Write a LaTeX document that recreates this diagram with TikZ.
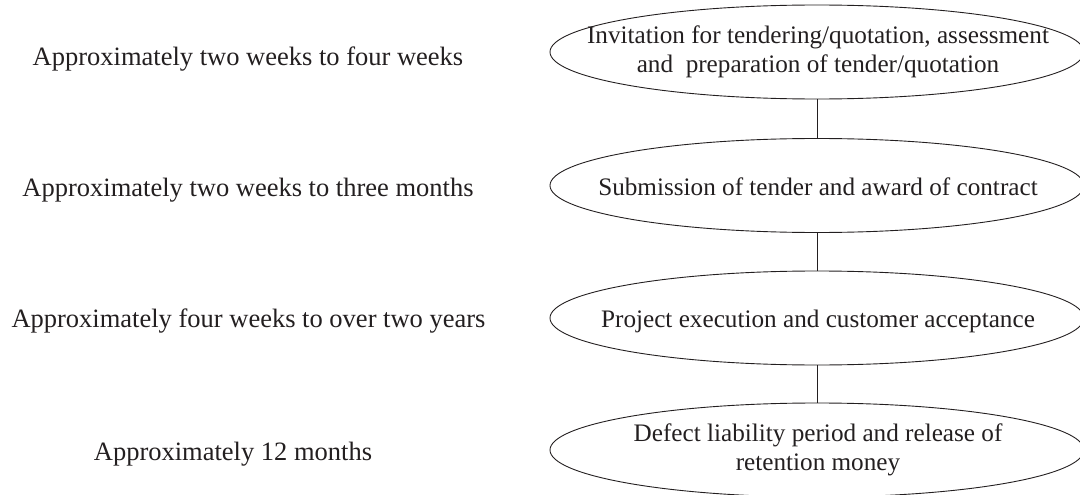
\documentclass[tikz,border=0pt]{standalone}
\usepackage{fontspec}
\setmainfont{Liberation Serif}
\usetikzlibrary{shapes.geometric}
\definecolor{ink}{RGB}{35,31,32}
\begin{document}
\begin{tikzpicture}[x=1pt,y=-1pt,
  stage/.style={draw=ink, line width=0.9pt, ellipse, minimum width=534pt, minimum height=94pt,
    inner sep=0pt},
  stagetext/.style={align=center, text=ink, inner sep=0pt, font=\fontsize{25.2}{28.5}\selectfont},
  period/.style={anchor=base, text=ink, inner sep=0pt, font=\fontsize{26.5}{30}\selectfont},
  link/.style={draw=ink, line width=0.9pt}]
\useasboundingbox (0,0) rectangle (1080,495);
\clip (0,0) rectangle (1080,495);
\node[stage] (e1) at (817,52) {};
\node[stage] (e2) at (817,185.5) {};
\node[stage] (e3) at (817,318) {};
\node[stage] (e4) at (817,450) {};
\node[stagetext] (t1) at (818,52) {Invitation for tendering/quotation, assessment\\and\ \ preparation of tender/quotation};
\node[stagetext, anchor=base] (t2) at (818,195) {Submission of tender and award of contract};
\node[stagetext, anchor=base] (t3) at (818,327) {Project execution and customer acceptance};
\node[stagetext] (t4) at (818,450) {Defect liability period and release of\\retention money};
\draw[link] (e1) -- (e2);
\draw[link] (e2) -- (e3);
\draw[link] (e3) -- (e4);
\node[period] (p1) at (248,65.5) {Approximately two weeks to four weeks};
\node[period] (p2) at (248,196) {Approximately two weeks to three months};
\node[period] (p3) at (248.5,327.5) {Approximately four weeks to over two years};
\node[period] (p4) at (233,460) {Approximately 12 months};
\end{tikzpicture}
\end{document}
